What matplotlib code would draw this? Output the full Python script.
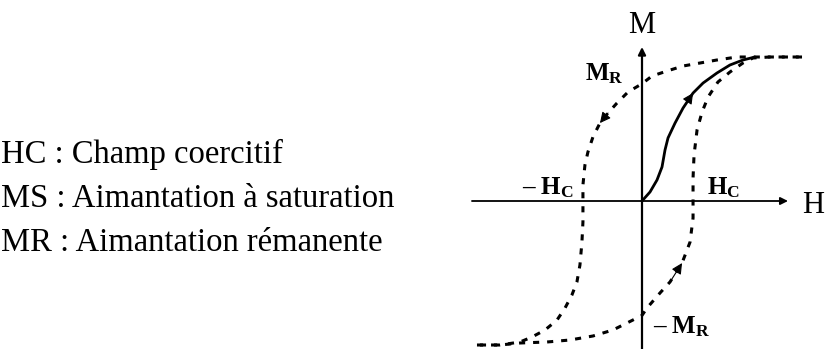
import matplotlib
matplotlib.use("Agg")
import matplotlib.pyplot as plt
from matplotlib.patches import FancyArrowPatch

plt.rcParams['font.family'] = ['Liberation Serif', 'DejaVu Serif']
plt.rcParams['mathtext.fontset'] = 'custom'
plt.rcParams['mathtext.rm'] = 'Liberation Serif'
plt.rcParams['mathtext.it'] = 'Liberation Serif:italic'
plt.rcParams['mathtext.bf'] = 'Liberation Serif:bold'

# Legend lines on the left
legend_lines = [
    "HC : Champ coercitif",
    "MS : Aimantation à saturation",
    "MR : Aimantation rémanente",
]

# Hysteresis loop, field H and magnetisation M normalised to saturation
# Descending branch (from +saturation down to -saturation)
desc_h = [1.119, 0.965, 0.804, 0.664, 0.524, 0.406, 0.287, 0.175, 0.070, 0.0,
          -0.098, -0.175, -0.238, -0.294, -0.343, -0.378, -0.399, -0.413, -0.413,
          -0.413, -0.420, -0.434, -0.455, -0.490, -0.538, -0.594, -0.678, -0.769,
          -0.853, -0.993, -1.154]
desc_m = [1.007, 1.007, 1.007, 1.007, 0.986, 0.965, 0.944, 0.909, 0.874, 0.82,
          0.762, 0.685, 0.615, 0.545, 0.448, 0.343, 0.252, 0.112, 0.0,
          -0.147, -0.287, -0.448, -0.566, -0.657, -0.748, -0.832, -0.902, -0.951,
          -0.986, -1.007, -1.007]

# Ascending branch (from -saturation back up to +saturation)
asc_h = [-1.154, -0.993, -0.853, -0.664, -0.503, -0.343, -0.203, -0.063, 0.0,
         0.035, 0.126, 0.196, 0.280, 0.336, 0.357, 0.357, 0.357, 0.364, 0.385,
         0.420, 0.462, 0.531, 0.615, 0.706, 0.776, 0.895, 1.119]
asc_m = [-1.007, -1.007, -0.993, -0.986, -0.972, -0.944, -0.902, -0.832, -0.80,
         -0.748, -0.643, -0.566, -0.434, -0.287, -0.119, 0.0, 0.161, 0.322, 0.497,
         0.622, 0.727, 0.832, 0.902, 0.965, 1.0, 1.007, 1.007]

# First magnetisation curve
virgin_h = [0.0, 0.056, 0.105, 0.140, 0.161, 0.182, 0.231, 0.287, 0.357, 0.427,
            0.524, 0.615, 0.706, 0.790]
virgin_m = [0.0, 0.063, 0.147, 0.238, 0.357, 0.441, 0.545, 0.650, 0.755, 0.825,
            0.895, 0.951, 0.986, 1.007]

W, H = 827, 349
X0, Y0, S = 642.0, 201.0, 143.0   # origin position and scale in pixels

fig = plt.figure(figsize=(W / 100, H / 100), dpi=100)
fig.patch.set_facecolor("white")
ax = fig.add_axes([0, 0, 1, 1])
ax.set_xlim(-X0 / S, (W - X0) / S)
ax.set_ylim(-(H - Y0) / S, Y0 / S)
ax.axis("off")

# Axes with arrows
ax.annotate("", xy=(0, 1.077), xytext=(0, -1.1),
            arrowprops=dict(arrowstyle="-|>", lw=1.6, color="black",
                            mutation_scale=11, shrinkA=0, shrinkB=0))
ax.annotate("", xy=(1.021, 0), xytext=(-1.189, 0),
            arrowprops=dict(arrowstyle="-|>", lw=1.3, color="black",
                            mutation_scale=11, shrinkA=0, shrinkB=0))

dash = (0, (2.0, 2.6))
ax.plot(desc_h, desc_m, color="black", lw=2.2, linestyle=dash)
ax.plot(asc_h, asc_m, color="black", lw=2.2, linestyle=dash)
ax.plot(virgin_h, virgin_m, color="black", lw=2.0, solid_capstyle="round",
        solid_joinstyle="round")


def head(hs, ms, i):
    """Arrowhead on a curve at point i, pointing along the curve."""
    p = FancyArrowPatch((hs[i - 1], ms[i - 1]), (hs[i], ms[i]),
                        arrowstyle="-|>", mutation_scale=16, lw=0.8,
                        color="black", shrinkA=0, shrinkB=0)
    ax.add_patch(p)


head(desc_h, desc_m, 13)
head(asc_h, asc_m, 12)
head(virgin_h, virgin_m, 8)

# Axis names
ax.text(0, 1.175, "M", fontsize=22, ha="center", va="baseline")
ax.text(1.12, -0.084, "H", fontsize=22, ha="left", va="baseline")

# Point labels
lab = 18
ax.text(-0.399, 0.846, r"$\mathbf{M_R}$", fontsize=lab, ha="left", va="baseline")
ax.text(0.077, -0.923, r"– $\mathbf{M_R}$", fontsize=lab, ha="left", va="baseline",
        fontweight="bold")
ax.text(-0.476, 0.049, r"– $\mathbf{H_C}$", fontsize=lab, ha="right", va="baseline",
        fontweight="bold")
ax.text(0.455, 0.049, r"$\mathbf{H_C}$", fontsize=lab, ha="left", va="baseline")

# Legend text on the left
for k, line in enumerate(legend_lines):
    y_px = 163 + 44 * k
    fig.text(1 / W, 1 - y_px / H, line, fontsize=23.5, ha="left", va="baseline")

fig.savefig("out.png", dpi=100, facecolor="white")
